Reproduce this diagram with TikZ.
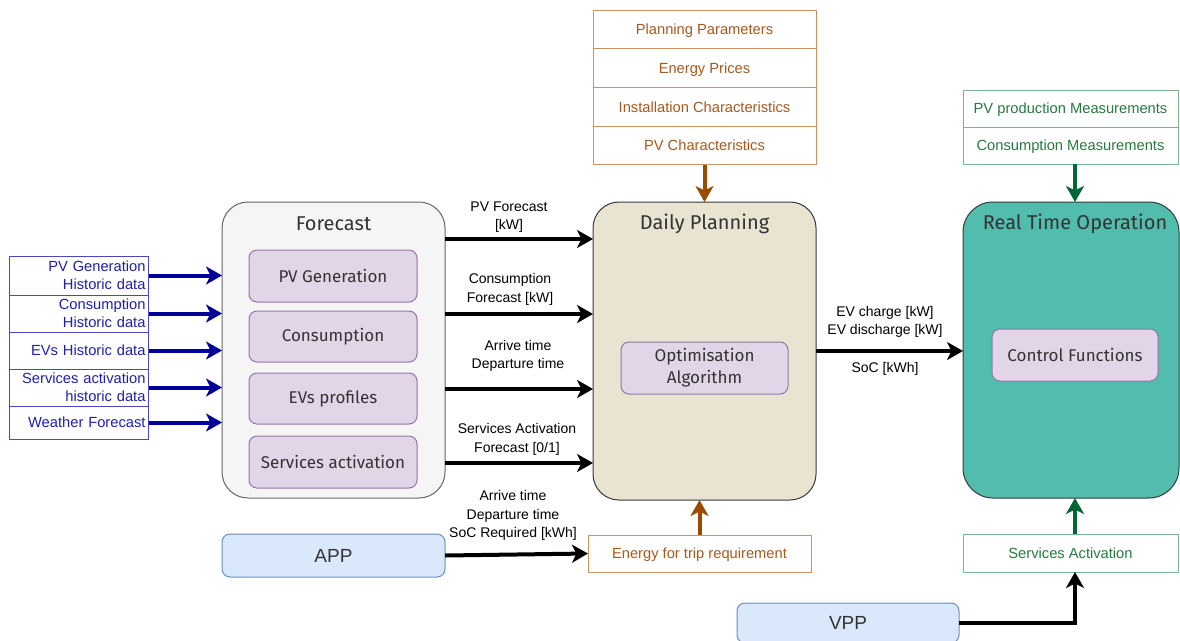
\documentclass[tikz,border=0pt]{standalone}
\usepackage{fontspec}
\setmainfont{Liberation Sans}
\newfontfamily\titlefont{Fira Sans}
\usetikzlibrary{arrows.meta,calc}

\definecolor{histtext}{HTML}{1F1FA8}
\definecolor{histline}{HTML}{4747C8}
\definecolor{histarrow}{HTML}{000099}
\definecolor{paramtext}{HTML}{A45A1E}
\definecolor{paramline}{HTML}{CC9364}
\definecolor{paramarrow}{HTML}{994C00}
\definecolor{meastext}{HTML}{267A3E}
\definecolor{measline}{HTML}{7DB38F}
\definecolor{measarrow}{HTML}{006633}
\definecolor{fcfill}{HTML}{F5F5F5}
\definecolor{fcline}{HTML}{666666}
\definecolor{subfill}{HTML}{E1D5E7}
\definecolor{subline}{HTML}{9673A6}
\definecolor{dpfill}{HTML}{E8E4D1}
\definecolor{rtfill}{HTML}{52BDAC}
\definecolor{boxline}{HTML}{36393D}
\definecolor{extfill}{HTML}{DAE8FC}
\definecolor{extline}{HTML}{6C8EBF}
\definecolor{titlegray}{HTML}{333333}

\tikzset{
  flow/.style={line width=4pt, draw=black, -{Stealth[length=16pt,width=18pt,inset=4.5pt]}},
  hist/.style={draw=histline, line width=1pt, text=histtext, minimum width=139, minimum height=37,
    text width=133, align=right, inner xsep=3, inner ysep=0, outer sep=0,
    font=\fontsize{14.7}{18}\selectfont},
  param/.style={draw=paramline, line width=1pt, text=paramtext, minimum width=223, minimum height=38.75,
    inner sep=0, outer sep=0, text height=13.5, text depth=3, font=\fontsize{14.7}{18}\selectfont},
  meas/.style={draw=measline, line width=1pt, text=meastext, minimum width=215, minimum height=37,
    inner sep=0, outer sep=0, text height=13.5, text depth=3, font=\fontsize{14.7}{18}\selectfont},
  big/.style={draw=boxline, line width=1pt, rounded corners=26, inner sep=0, outer sep=0},
  boxtitle/.style={text=titlegray, inner sep=0, font=\titlefont\fontsize{20}{24}\selectfont},
  sub/.style={draw=subline, fill=subfill, line width=1pt, rounded corners=8, minimum width=168,
    minimum height=52, inner sep=0, outer sep=0, align=center, text=titlegray,
    font=\titlefont\fontsize{17}{22}\selectfont},
  ext/.style={draw=extline, fill=extfill, line width=1pt, rounded corners=8, minimum width=223,
    minimum height=43, inner sep=0, outer sep=0, text=titlegray, font=\fontsize{19}{23}\selectfont},
  lbl/.style={align=center, inner sep=0, text=black, font=\fontsize{14}{18.5}\selectfont}
}

\begin{document}
\begin{tikzpicture}[x=1pt,y=-1pt]
\useasboundingbox (0,0) rectangle (1180,640);
\clip (0,0) rectangle (1180,640);

% Historic data inputs
\node[hist, minimum height=39] (h1) at (79,275.5) {PV Generation\\Historic data};
\node[hist] (h2) at (79,313.5) {Consumption\\Historic data};
\node[hist] (h3) at (79,350.5) {EVs Historic data};
\node[hist] (h4) at (79,387.5) {Services activation\\historic data};
\node[hist, minimum height=33] (h5) at (79,422.5) {Weather Forecast};

% Forecast block
\node[big, fill=fcfill, draw=fcline, minimum width=223, minimum height=296] (fc) at (333.5,350) {};
\node[boxtitle] (fct) at ($(fc.north)+(0,21.5)$) {Forecast};
\node[sub] (fpv) at (333,276) {PV Generation};
\node[sub, minimum height=51] (fcon) at (333,336.5) {Consumption};
\node[sub, minimum height=51] (fev) at (333,398.5) {EVs profiles};
\node[sub] (fsa) at (333,462) {Services activation};

% Daily planning block
\node[big, fill=dpfill, minimum width=223, minimum height=298] (dp) at (704.5,351) {};
\node[boxtitle] (dpt) at ($(dp.north)+(0,21.5)$) {Daily Planning};
\node[sub, minimum width=167] (opt) at (704.5,368) {Optimisation\\Algorithm};

% Real time operation block
\node[big, fill=rtfill, minimum width=216, minimum height=296, rounded corners=30] (rt) at (1071,350) {};
\node[boxtitle] (rtt) at ($(rt.north)+(4,21.5)$) {Real Time Operation};
\node[sub, minimum width=166] (cf) at (1075,355) {Control Functions};

% Planning parameters
\node[param] (pp1) at (704.5,29.4) {Planning Parameters};
\node[param] (pp2) at (704.5,68.1) {Energy Prices};
\node[param] (pp3) at (704.5,106.9) {Installation Characteristics};
\node[param] (pp4) at (704.5,145.6) {PV Characteristics};

% Measurements
\node[meas] (ms1) at (1070.5,108.5) {PV production Measurements};
\node[meas] (ms2) at (1070.5,145.5) {Consumption Measurements};

% Bottom inputs
\node[param, minimum height=37] (etr) at (699.5,553.5) {Energy for trip requirement};
\node[meas, minimum height=38] (sact) at (1070.5,553) {Services Activation};
\node[ext] (app) at (333.5,555.5) {APP};
\node[ext, minimum width=222, minimum height=40] (vpp) at (848,623) {VPP};

% Historic data into forecast
\foreach \r in {h1,h2,h3,h4,h5}
  \draw[flow, draw=histarrow] (\r.east) -- (\r.east -| fc.west);

% Forecast outputs into planning
\foreach \dy/\n in {-111/1,-36/2,39/3,113/4}
  \path (fc.east) ++(0,\dy) coordinate (m\n);
\foreach \n in {1,2,3,4}
  \draw[flow] (m\n) -- (m\n -| dp.west);
\node[lbl] (l1) at (509,217) {PV Forecast\\{}[kW]};
\node[lbl] (l2) at (510,289.5) {Consumption\\Forecast [kW]};
\node[lbl] (l3) at (518,356) {Arrive time\\Departure time};
\node[lbl] (l4) at (517,439.5) {Services Activation\\Forecast [0/1]};

% Planning to real time
\draw[flow] (dp.east) -- (dp.east -| rt.west);
\node[lbl] (evl) at (885,322) {EV charge [kW]\\EV discharge [kW]};
\node[lbl] (socl) at (885,368.5) {SoC [kWh]};

% APP to trip requirement
\draw[flow] (app.east) -- (etr.west);
\node[lbl] (appl) at (513,515.5) {Arrive time\\Departure time\\SoC Required [kWh]};

% Vertical feeds
\draw[flow, draw=paramarrow] (pp4.south) -- (dp.north);
\draw[flow, draw=paramarrow] (etr.north) -- (etr.north |- dp.south);
\draw[flow, draw=measarrow] ([xshift=4.5]ms2.south) -- ([xshift=4.5]ms2.south |- rt.north);
\draw[flow, draw=measarrow] ([xshift=4.5]sact.north) -- ([xshift=4.5]sact.north |- rt.south);
\draw[flow] (vpp.east) -| ([xshift=4.5]sact.south);
\end{tikzpicture}
\end{document}
